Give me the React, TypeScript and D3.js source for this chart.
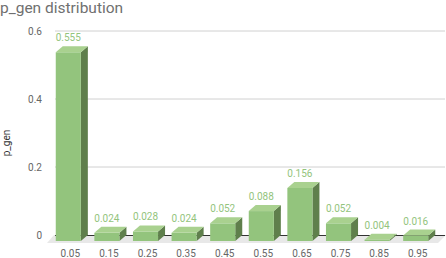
import React from "react";
import * as d3 from "d3";

// bins and their p_gen share
const categories = ["0.05", "0.15", "0.25", "0.35", "0.45", "0.55", "0.65", "0.75", "0.85", "0.95"];
const values = [0.555, 0.024, 0.028, 0.024, 0.052, 0.088, 0.156, 0.052, 0.004, 0.016];
const valueLabels = ["0.555", "0.024", "0.028", "0.024", "0.052", "0.088", "0.156", "0.052", "0.004", "0.016"];
const yTicks = [0, 0.2, 0.4, 0.6];
const yTickLabels = ["0", "0.2", "0.4", "0.6"];

const width = 446;
const height = 258;
const dx = 7;     // depth shift (3d)
const dy = -6;
const font = "Roboto, 'Noto Sans', sans-serif";

export default function App() {
    const x = d3.scaleBand<string>()
        .domain(categories)
        .range([49, 435])
        .paddingInner(0.35)
        .paddingOuter(0.175);
    const y = d3.scaleLinear().domain([0, 0.6]).range([241, 37]);   // front plane

    const line = d3.line();
    const zero = y(0);
    const bw = x.bandwidth();

    const floor: [number, number][] = [
        [47, zero + 2], [438, zero + 2], [438 + dx + 1, zero + dy], [47 + dx, zero + dy]
    ];

    return (
        <svg width={width} height={height} style={{ position: "absolute", left: 0, top: 0 }}>
            <text x={0} y={13} fontFamily={font} fontSize={15.5} fill="#707070">p_gen distribution</text>

            <path d={line(floor) || ""} fill="#e8e8e8" />

            {yTicks.map((t, i) => (
                <g key={t}>
                    {t > 0 && (
                        <line x1={49 + dx - 1} x2={width - 1} y1={y(t) + dy} y2={y(t) + dy}
                              stroke="#d0d0d0" strokeWidth={1} />
                    )}
                    <text x={42} y={y(t) + dy + 3.5} textAnchor="end" fontFamily={font}
                          fontSize={10} fill="#666">{yTickLabels[i]}</text>
                </g>
            ))}
            <line x1={49 + dx - 1} x2={width - 1} y1={zero + dy + 0.5} y2={zero + dy + 0.5}
                  stroke="#333" strokeWidth={1} />

            <text transform={`translate(10,143) rotate(-90)`} textAnchor="middle" fontFamily={font}
                  fontSize={10} fill="#333">p_gen</text>

            {values.map((v, i) => {
                const x0 = x(categories[i]) || 0;
                const x1 = x0 + bw;
                const top = y(v);
                const front: [number, number][] = [[x0, zero], [x1, zero], [x1, top], [x0, top]];
                const lid: [number, number][] = [[x0, top], [x1, top], [x1 + dx, top + dy], [x0 + dx, top + dy]];
                const side: [number, number][] = [[x1, zero], [x1 + dx, zero + dy], [x1 + dx, top + dy], [x1, top]];
                return (
                    <g key={categories[i]}>
                        <path d={(line(side) || "") + "Z"} fill="#5f7f4c" />
                        <path d={(line(front) || "") + "Z"} fill="#93c47d" />
                        <path d={(line(lid) || "") + "Z"} fill="#a9d18f" />
                        <text x={x0 + bw / 2} y={top + dy - 5} textAnchor="middle" fontFamily={font}
                              fontSize={10} fill="#93c47d">{valueLabels[i]}</text>
                        <text x={x0 + bw / 2 + 2} y={257} textAnchor="middle" fontFamily={font}
                              fontSize={10} fill="#666">{categories[i]}</text>
                    </g>
                );
            })}
        </svg>
    );
}
